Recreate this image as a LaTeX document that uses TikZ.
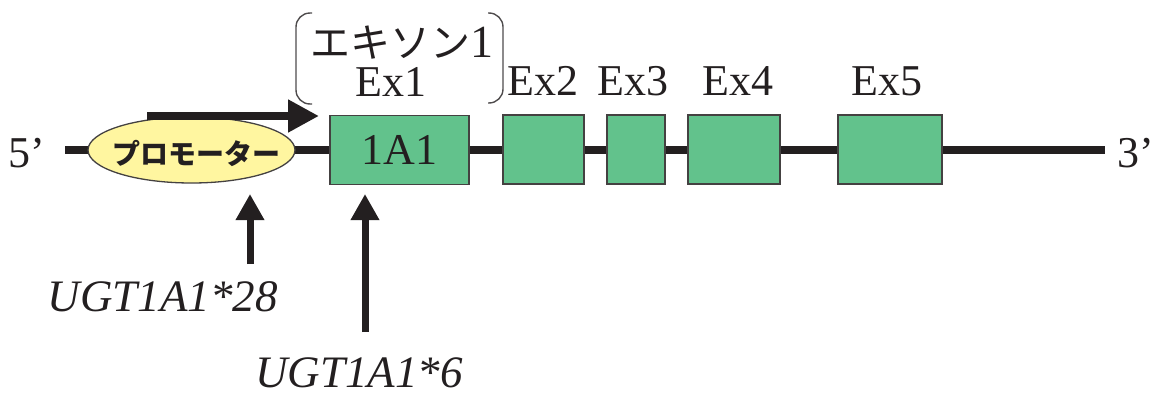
\documentclass[tikz,border=0pt]{standalone}
\usepackage{fontspec}
\setmainfont{Liberation Serif}
\newfontfamily\jp{Noto Sans CJK JP}
\usetikzlibrary{arrows.meta,shapes.geometric}
\definecolor{exgreen}{RGB}{98,194,140}
\definecolor{promyel}{RGB}{255,246,160}
\definecolor{ink}{RGB}{35,31,32}
\tikzset{
  exon/.style={draw=ink!85, line width=1.3pt, fill=exgreen, inner sep=0pt, minimum height=69pt},
  lbl/.style={inner sep=0pt, font=\fontsize{44}{44}\selectfont, text=ink},
  mut/.style={inner sep=0pt, font=\fontsize{45}{45}\selectfont\itshape, text=ink},
  backbone/.style={draw=ink, line width=8.5pt},
  uparrow/.style={draw=ink, line width=7pt, -{Triangle[length=26pt,width=27pt]}},
  bracket/.style={draw=ink!80, line width=1.4pt, rounded corners=14pt},
}
\begin{document}
\begin{tikzpicture}[x=1pt,y=-1pt]
\useasboundingbox (0,0) rectangle (1152,394);
% backbone
\coordinate (s) at (65,150);
\coordinate (e) at (1105,150);
\draw[backbone] (s) -- (e);
% promoter
\node[ellipse, draw=ink!85, line width=1.3pt, fill=promyel, minimum width=207pt, minimum height=66pt, inner sep=0pt] (prom) at (191.5,150) {};
\node[inner sep=0pt, font=\jp\bfseries\fontsize{28}{28}\selectfont, text=ink] (promtxt) at (196,153) {プロモーター};
% exons
\node[exon, minimum width=139pt] (ex1) at (399.5,150) {};
\node[lbl] at (ex1) {1A1};
\node[exon, minimum width=81pt] (ex2) at (543.5,149.5) {};
\node[exon, minimum width=58pt] (ex3) at (636,149.5) {};
\node[exon, minimum width=92pt] (ex4) at (734,149.5) {};
\node[exon, minimum width=104pt] (ex5) at (890,149.5) {};
% exon labels
\node[lbl, anchor=base] (l1) at (391,96) {Ex1};
\node[lbl, anchor=base] (l2) at (543,95) {Ex2};
\node[lbl, anchor=base] (l3) at (633,95) {Ex3};
\node[lbl, anchor=base] (l4) at (738,95) {Ex4};
\node[lbl, anchor=base] (l5) at (887,95) {Ex5};
% exon 1 heading
\node[inner sep=0pt, text=ink, text depth=0pt, anchor=base] (exon1jp) at (402,57) {\jp\fontsize{40}{40}\selectfont エキソン\rmfamily\fontsize{46}{46}\selectfont 1};
\draw[bracket] (312,13) -- (296,13) -- (296,104) -- (312,104);
\draw[bracket] (488,13) -- (503,13) -- (503,103) -- (488,103);
% ends
\node[lbl, anchor=base west] (five) at (8,167) {5’};
\node[lbl, anchor=base west] (three) at (1117,167) {3’};
% transcription arrow
\coordinate (ts) at (147,116);
\coordinate (te) at (319,116);
\draw[draw=ink, line width=8pt, -{Triangle[length=31pt,width=31pt]}] (ts) -- (te);
% mutation arrows and labels
\node[mut] (m28) at (163,297) {UGT1A1*28};
\node[mut, text depth=0pt, anchor=base] (m6) at (359,387) {UGT1A1*6};
\coordinate (a1s) at (250,264);
\coordinate (a1e) at (250,194);
\coordinate (a2s) at (365,332);
\coordinate (a2e) at (365,194);
\draw[uparrow] (a1s) -- (a1e);
\draw[uparrow] (a2s) -- (a2e);
\end{tikzpicture}
\end{document}
